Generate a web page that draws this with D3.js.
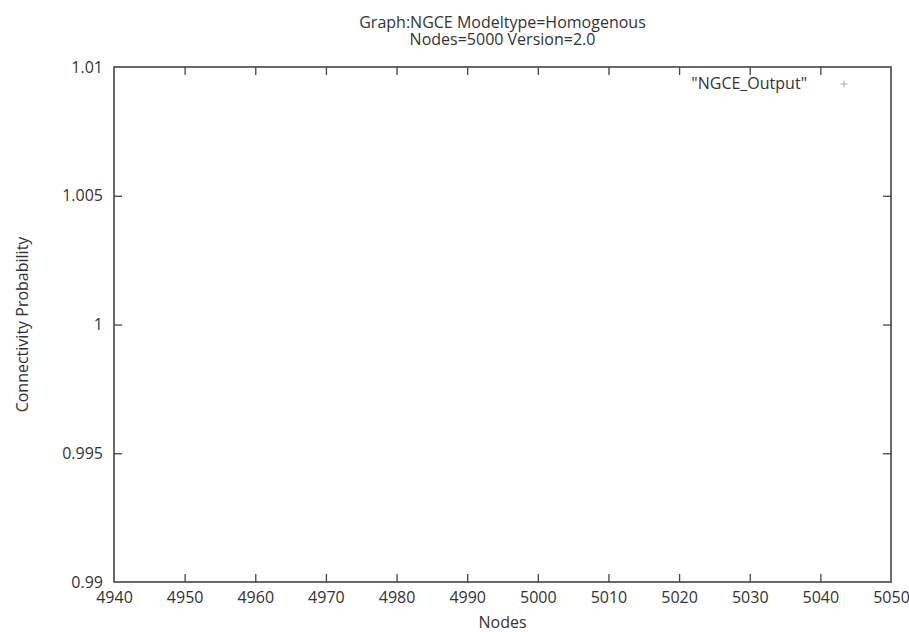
<!DOCTYPE html>
<html>
<head>
<meta charset="utf-8">
<script src="https://cdn.jsdelivr.net/npm/d3@7"></script>
<style>
  html, body { margin: 0; padding: 0; background: #fff; }
  svg text { font-family: "Open Sans", "DejaVu Sans", sans-serif; fill: #333; }
</style>
</head>
<body>
<svg id="chart" width="909" height="632"></svg>
<script>
// Plot data for the NGCE run (no samples fall within the plotted window)
const seriesName = "\"NGCE_Output\"";
const nodes = [];
const connectivity = [];

const xDomain = [4940, 5050];
const yDomain = [0.99, 1.01];
const xTicks = [4940, 4950, 4960, 4970, 4980, 4990, 5000, 5010, 5020, 5030, 5040, 5050];
const yTicks = [0.99, 0.995, 1, 1.005, 1.01];
const yTickLabels = ["0.99", "0.995", "1", "1.005", "1.01"];

const titleLines = ["Graph:NGCE Modeltype=Homogenous", "Nodes=5000 Version=2.0"];
const xLabel = "Nodes";
const yLabel = "Connectivity Probability";

(function () {
  const svg = d3.select("#chart");
  const m = { left: 114, right: 891, top: 67, bottom: 582 };
  const fs = 16;

  const x = d3.scaleLinear().domain(xDomain).range([m.left, m.right]);
  const y = d3.scaleLinear().domain(yDomain).range([m.bottom, m.top]);

  const frameColor = "#444";
  const tickLen = 8;

  // Axes: labels on bottom/left, inward ticks on all four sides
  const axBottom = svg.append("g").attr("transform", `translate(0,${m.bottom})`)
    .call(d3.axisBottom(x).tickValues(xTicks).tickFormat(d3.format("d")).tickSizeInner(-tickLen).tickSizeOuter(0).tickPadding(10));
  const axTop = svg.append("g").attr("transform", `translate(0,${m.top})`)
    .call(d3.axisTop(x).tickValues(xTicks).tickFormat("").tickSizeInner(-tickLen).tickSizeOuter(0));
  const axLeft = svg.append("g").attr("transform", `translate(${m.left},0)`)
    .call(d3.axisLeft(y).tickValues(yTicks).tickFormat((d, i) => yTickLabels[i]).tickSizeInner(-tickLen).tickSizeOuter(0).tickPadding(11));
  const axRight = svg.append("g").attr("transform", `translate(${m.right},0)`)
    .call(d3.axisRight(y).tickValues(yTicks).tickFormat("").tickSizeInner(-tickLen).tickSizeOuter(0));

  [axBottom, axTop, axLeft, axRight].forEach(g => {
    g.select(".domain").remove();
    g.selectAll(".tick line").attr("stroke", frameColor).attr("stroke-width", 1.3);
    g.selectAll(".tick text").attr("font-size", fs).style("fill", "#333");
  });
  // end ticks sit on the frame corners; drop those lines
  axBottom.selectAll(".tick").filter(d => d === xDomain[0] || d === xDomain[1]).select("line").remove();
  axTop.selectAll(".tick").filter(d => d === xDomain[0] || d === xDomain[1]).select("line").remove();
  axLeft.selectAll(".tick").filter(d => d === yDomain[0] || d === yDomain[1]).select("line").remove();
  axRight.selectAll(".tick").filter(d => d === yDomain[0] || d === yDomain[1]).select("line").remove();

  // Plot frame
  svg.append("rect")
    .attr("x", m.left).attr("y", m.top)
    .attr("width", m.right - m.left).attr("height", m.bottom - m.top)
    .attr("fill", "none").attr("stroke", frameColor).attr("stroke-width", 1.6);

  // Data points drawn as "+" markers
  const plus = (cx, cy, s) => `M${cx - s},${cy}H${cx + s}M${cx},${cy - s}V${cy + s}`;
  svg.append("g").selectAll("path")
    .data(nodes.map((n, i) => [n, connectivity[i]]))
    .join("path")
    .attr("d", d => plus(x(d[0]), y(d[1]), 3.5))
    .attr("stroke", "#999").attr("stroke-width", 1).attr("fill", "none");

  // Key
  svg.append("text")
    .attr("x", 807).attr("y", 89)
    .attr("text-anchor", "end").attr("font-size", fs)
    .text(seriesName);
  svg.append("path")
    .attr("d", plus(844, 84, 3.5))
    .attr("stroke", "#aaa").attr("stroke-width", 1).attr("fill", "none");

  // Two-line title
  const cx = (m.left + m.right) / 2;
  const title = svg.append("text").attr("text-anchor", "middle").attr("font-size", fs);
  title.selectAll("tspan").data(titleLines).join("tspan")
    .attr("x", cx).attr("y", (d, i) => 28 + i * 16.5)
    .text(d => d);

  // Axis titles
  svg.append("text").attr("x", cx).attr("y", 628).attr("text-anchor", "middle").attr("font-size", fs).text(xLabel);
  svg.append("text")
    .attr("transform", `translate(28,${(m.top + m.bottom) / 2}) rotate(-90)`)
    .attr("text-anchor", "middle").attr("font-size", fs).text(yLabel);
})();
</script>
</body>
</html>
